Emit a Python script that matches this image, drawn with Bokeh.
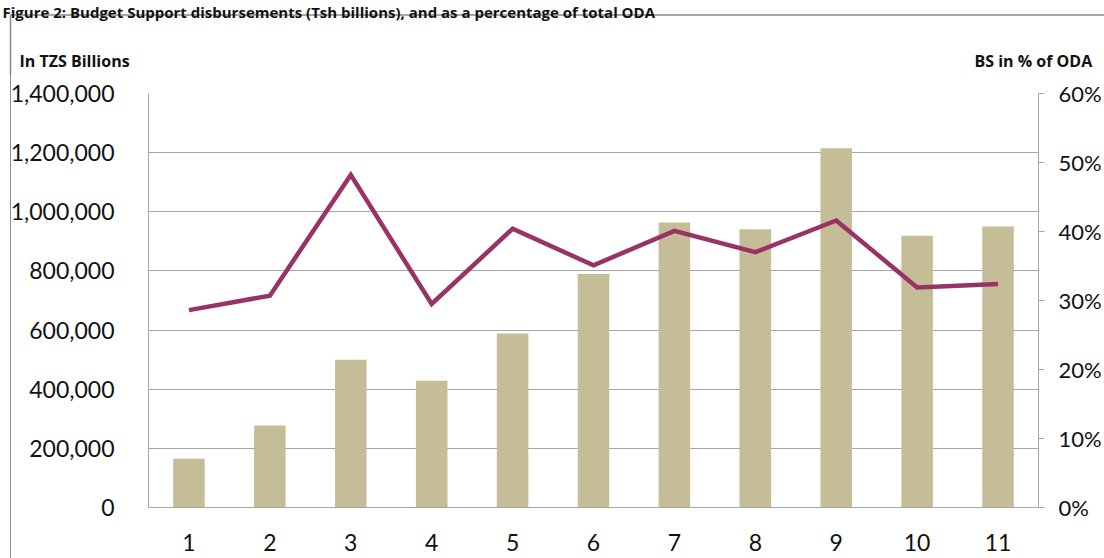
from bokeh.plotting import figure
from bokeh.layouts import column
from bokeh.models import (Range1d, LinearAxis, NumeralTickFormatter, FixedTicker,
                          Label, FactorRange, ColumnDataSource)
from bokeh.embed import file_html
from bokeh.resources import INLINE

# ---- data ----
categories = ["1", "2", "3", "4", "5", "6", "7", "8", "9", "10", "11"]
bs_disbursements = [165000, 277000, 500000, 429000, 588000, 790000,
                    964000, 941000, 1215000, 919000, 950000]
bs_pct_oda = [0.286, 0.307, 0.482, 0.295, 0.404, 0.351,
              0.401, 0.370, 0.416, 0.319, 0.324]
left_ticks = [0, 200000, 400000, 600000, 800000, 1000000, 1200000, 1400000]
right_ticks = [0.0, 0.1, 0.2, 0.3, 0.4, 0.5, 0.6]
title_text = "Figure 2:  Budget Support disbursements (Tsh billions), and as a percentage of total ODA"
left_title = "In TZS Billions"
right_title = "BS in % of ODA"

W, H = 1104, 558
HT = 75                               # header strip height
FL, FR, FT, FB = 148, 1040, 93, 507   # frame edges on the page
FONT = "Lato"
TFONT = "Open Sans"
GRAY = "#A6A6A6"
BOX = "#8C8C8C"

# ---------------- header strip (titles + top of the chart box) ----------------
hdr = figure(width=W, height=HT, x_range=Range1d(0, W), y_range=Range1d(HT, 0),
             x_axis_type=None, y_axis_type=None, title=None,
             output_backend="svg", toolbar_location=None, min_border=0)
hdr.frame_align = False
hdr.outline_line_color = None
hdr.xgrid.visible = False
hdr.ygrid.visible = False
hdr.line(x=[10, 10, W + 5], y=[HT + 5, 14.5, 14.5], line_color=BOX, line_width=1.5)
hdr.add_layout(Label(x=2, y=11, text=title_text, text_font=TFONT, text_font_style="bold",
                     text_font_size="15px", text_baseline="alphabetic", text_color="#111111"))
hdr.add_layout(Label(x=19, y=60, text=left_title, text_font=TFONT, text_font_style="bold",
                     text_font_size="16px", text_baseline="alphabetic", text_color="#111111"))
hdr.add_layout(Label(x=974, y=60, text=right_title, text_font=TFONT, text_font_style="bold",
                     text_font_size="16px", text_baseline="alphabetic", text_color="#111111"))

# ---------------- main chart ----------------
src = ColumnDataSource(dict(cat=categories, bs=bs_disbursements, pct=bs_pct_oda))

p = figure(width=W, height=H - HT, x_range=FactorRange(*categories, range_padding=0),
           y_range=Range1d(0, 1400000), output_backend="svg", toolbar_location=None,
           title=None, min_border_left=FL, min_border_right=W - FR,
           min_border_top=FT - HT, min_border_bottom=H - FB)
p.frame_align = False
p.extra_y_ranges = {"pct": Range1d(0, 0.6)}
p.outline_line_color = None
p.background_fill_color = "white"
p.border_fill_color = "white"

p.vbar(x="cat", top="bs", width=0.39, source=src, fill_color="#C4BD97", line_color=None)
p.line(x="cat", y="pct", source=src, y_range_name="pct", line_color="#993366",
       line_width=4.5, line_join="miter")

# grid
p.xgrid.visible = False
p.ygrid.ticker = FixedTicker(ticks=left_ticks)
p.ygrid.grid_line_color = GRAY
p.ygrid.grid_line_width = 1

# left axis
ya = p.yaxis[0]
ya.ticker = FixedTicker(ticks=left_ticks)
ya.formatter = NumeralTickFormatter(format="0,0")
ya.axis_line_color = GRAY
ya.major_tick_line_color = None
ya.minor_tick_line_color = None
ya.major_label_standoff = 28
ya.major_label_text_font = FONT
ya.major_label_text_font_size = "23px"
ya.major_label_text_color = "#111111"

# bottom axis
xa = p.xaxis[0]
xa.axis_line_color = GRAY
xa.major_tick_line_color = None
xa.minor_tick_line_color = None
xa.major_label_standoff = 20
xa.major_label_text_font = FONT
xa.major_label_text_font_size = "23px"
xa.major_label_text_color = "#111111"

# right axis
ra = LinearAxis(y_range_name="pct", ticker=FixedTicker(ticks=right_ticks),
                formatter=NumeralTickFormatter(format="0%"))
ra.axis_line_color = GRAY
ra.major_tick_line_color = GRAY
ra.major_tick_out = 6
ra.major_tick_in = 0
ra.minor_tick_line_color = None
ra.major_label_standoff = 14
ra.major_label_text_font = FONT
ra.major_label_text_font_size = "22px"
ra.major_label_text_color = "#111111"
p.add_layout(ra, "right")

# left edge of the chart box continues down the main chart
try:
    p.stylesheets = [":host::after { content: ''; position: absolute; left: 10px; top: 0; "
                     "bottom: 0; width: 0; border-left: 1.5px solid #8C8C8C; "
                     "pointer-events: none; z-index: 5; }"]
except Exception:
    pass

layout = column(hdr, p, spacing=0)
open("out.html", "w").write(file_html(layout, INLINE))
